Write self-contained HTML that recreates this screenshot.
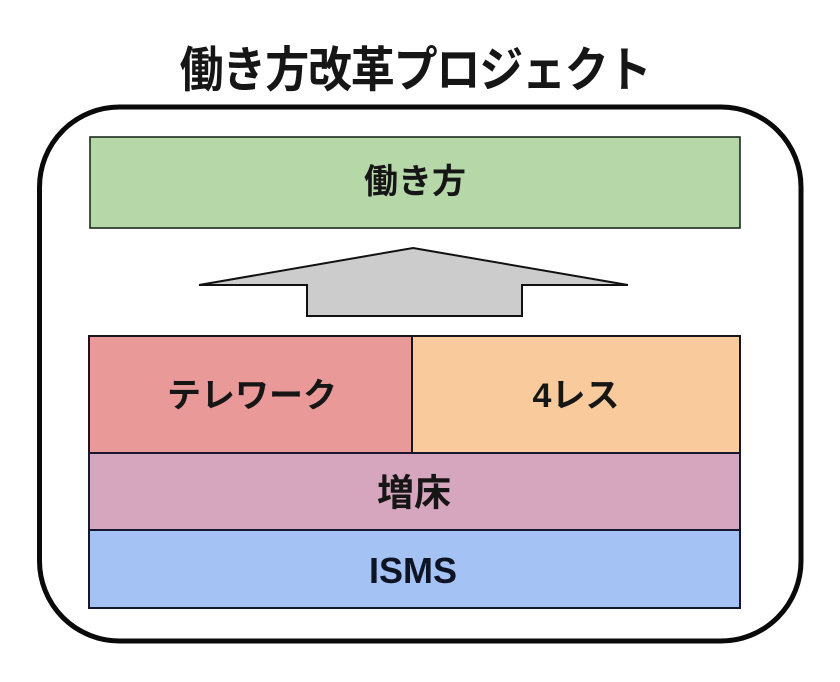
<!DOCTYPE html>
<html>
<head>
<meta charset="utf-8">
<style>
  html,body{margin:0;padding:0;background:#fff;}
  body{width:840px;height:682px;overflow:hidden;}
  svg{display:block;}
  .jp{font-family:"Liberation Sans","Noto Sans CJK JP",sans-serif;font-weight:bold;fill:#161616;}
</style>
</head>
<body>
<svg width="840" height="682" viewBox="0 0 840 682" xmlns="http://www.w3.org/2000/svg">
  <rect x="0" y="0" width="840" height="682" fill="#ffffff"/>

  <!-- Title -->
  <text class="jp" transform="translate(415,70) scale(1,1.1)" text-anchor="middle" dominant-baseline="central" font-size="44" letter-spacing="-1.2">働き方改革プロジェクト</text>

  <!-- Outer rounded frame -->
  <rect x="39.5" y="107" width="761.5" height="534" rx="80" ry="80" fill="#ffffff" stroke="#0a0a0a" stroke-width="5"/>

  <!-- Green box -->
  <rect x="90" y="137" width="650" height="91" fill="#b6d7a8" stroke="#1e2a1e" stroke-width="1.6"/>
  <text class="jp" x="415" y="182" text-anchor="middle" dominant-baseline="central" font-size="34">働き方</text>

  <!-- Up arrow -->
  <polygon points="413,248 628,285 522,285 522,316 307,316 307,285 199,285" fill="#cccccc" stroke="#111111" stroke-width="2" stroke-linejoin="miter"/>

  <!-- Row: Telework / 4less -->
  <rect x="89" y="336" width="323" height="117" fill="#ea9999" stroke="#1a1420" stroke-width="2"/>
  <rect x="412" y="336" width="328" height="117" fill="#f9cb9c" stroke="#1a1420" stroke-width="2"/>
  <text class="jp" x="252" y="396" text-anchor="middle" dominant-baseline="central" font-size="34">テレワーク</text>
  <text class="jp" x="576" y="396" text-anchor="middle" dominant-baseline="central" font-size="34">4レス</text>

  <!-- Row: 増床 -->
  <rect x="89" y="453" width="651" height="77" fill="#d5a6bd" stroke="#1a1830" stroke-width="2"/>
  <text class="jp" x="414" y="493" text-anchor="middle" dominant-baseline="central" font-size="37">増床</text>

  <!-- Row: ISMS -->
  <rect x="89" y="530" width="651" height="78" fill="#a4c2f4" stroke="#14182e" stroke-width="2"/>
  <text x="413" y="583" text-anchor="middle" font-family="Liberation Sans, sans-serif" font-weight="bold" font-size="36" fill="#0e1424">ISMS</text>
</svg>
</body>
</html>
